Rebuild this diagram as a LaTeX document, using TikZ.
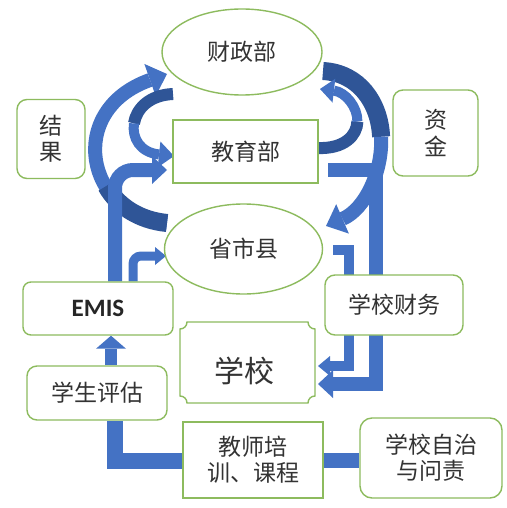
\documentclass[tikz,border=0pt]{standalone}
\usepackage{fontspec}
\newfontfamily\cjk{Noto Sans CJK SC}
\newfontfamily\calfont{Carlito}
\usetikzlibrary{arrows.meta,calc,shapes.geometric}
\definecolor{bl}{HTML}{4472C4}
\definecolor{bd}{HTML}{2F5597}
\definecolor{gr}{HTML}{8DBB5E}
\definecolor{tx}{HTML}{333333}
\pgfdeclarelayer{bg}
\pgfsetlayers{bg,main}
\begin{document}
\begin{tikzpicture}[x=1pt,y=-1pt,
  box/.style={draw=gr, line width=1.4pt, fill=white, inner sep=0pt, align=center, text=tx,
    font=\cjk\fontsize{23}{26}\selectfont},
  rbox/.style={box, rounded corners=10pt},
  ell/.style={box, ellipse},
  band/.style={draw=bl, line width=#1, line join=miter},
  dband/.style={draw=bd, line width=#1},
  tip/.style n args={2}{-{Triangle[width=#1pt,length=#2pt,line width=0pt]}}
]
\useasboundingbox (0,0) rectangle (506,508);

% nodes
\node[ell, minimum width=160pt, minimum height=86pt] (czb) at (242,52) {财政部};
\node[box, minimum width=145pt, minimum height=63pt] (jyb) at (245.5,151.5) {教育部};
\node[ell, minimum width=158pt, minimum height=90pt] (ssx) at (243.5,249) {省市县};
\node[rbox, minimum width=68pt, minimum height=79pt, font=\cjk\fontsize{23}{26}\selectfont] (jg) at (51,139) {结\\果};
\node[rbox, minimum width=85pt, minimum height=86pt, font=\cjk\fontsize{23}{27}\selectfont] (zj) at (435.5,133) {资\\金};
\node[rbox, rounded corners=8pt, minimum width=150pt, minimum height=53pt,
      font=\calfont\bfseries\fontsize{25}{28}\selectfont, text=black!85] (emis) at (98,308.5) {EMIS};
\node[rbox, minimum width=140pt, minimum height=54pt] (xspg) at (97,393) {学生评估};
\node[rbox, minimum width=138pt, minimum height=60pt] (xxcw) at (394,305) {学校财务};
% plaque shaped school box
\node[inner sep=0pt, minimum width=135pt, minimum height=81pt] (xx) at (247.5,362.5) {};
\draw[draw=gr, line width=1.4pt, fill=white]
  (187,322) -- (308,322) .. controls (308,325.9) and (311.1,329) .. (315,329)
  -- (315,396) .. controls (311.1,396) and (308,399.1) .. (308,403)
  -- (187,403) .. controls (187,399.1) and (183.9,396) .. (180,396)
  -- (180,329) .. controls (183.9,329) and (187,325.9) .. (187,322) -- cycle;
\node[text=tx, font=\cjk\fontsize{30}{32}\selectfont, inner sep=0pt] (xxt) at (244,371) {学校};
\node[box, minimum width=140pt, minimum height=76pt] (jspx) at (253,460) {教师培\\训、课程};
\node[rbox, rounded corners=12pt, minimum width=142pt, minimum height=80pt] (xxzz) at (431,458) {学校自治\\与问责};

% connector coordinates
\coordinate (a1s) at (167,223);
\coordinate (a1m) at (106.25,186);
\coordinate (a1e) at (167,74);
\coordinate (a2s) at (173,94);
\coordinate (a2m) at (134,123.4);
\coordinate (a2e) at (174,156);
\coordinate (a3s) at (323,71);
\coordinate (a3m) at (381.1,136.75);
\coordinate (a3e) at (326,226);
\coordinate (a4s) at (318,148);
\coordinate (a4m) at (357.4,121.5);
\coordinate (a4e) at (320,89);
\coordinate (a5e) at (167,170);
\coordinate (a6e) at (166,256);
\coordinate (a7s) at (328,170);
\coordinate (a7e) at (318,384);
\coordinate (a8s) at (333,250);
\coordinate (a8e) at (318,366);

\begin{pgfonlayer}{bg}
\fill[white] (0,0) rectangle (506,508);
% 教育部 -> 学校
\draw[band=14pt, tip={28}{15}] (a7s) -- (376,170) -- (376,384) -- (a7e);
% 省市县 -> 学校
\draw[band=10pt, tip={20}{12}] (a8s) -- (349,250) -- (349,366) -- (a8e);
% 省市县 -> 财政部 (left big arc)
\draw[band=14pt, tip={34}{18}] (a1s) .. controls (85,215) and (65,110) .. (a1e);
\draw[dband=18pt] (a1s) .. controls (138.3,220.2) and (117.2,205.5) .. (a1m);
% 财政部 -> 教育部 (left small arc)
\draw[dband=12pt] (a2s) .. controls (149,95) and (136.25,109) .. (a2m);
\draw[band=10pt, tip={26}{15}] (a2m) .. controls (131.75,137.75) and (140,152.5) .. (a2e);
% 财政部 -> 省市县 (right big arc)
\draw[dband=18pt] (a3s) .. controls (359,73) and (379.5,102.75) .. (a3m);
\draw[band=14pt, tip={32}{18}] (a3m) .. controls (382.75,170.75) and (365.5,209) .. (a3e);
% 教育部 -> 财政部 (right small arc)
\draw[dband=12pt] (a4s) .. controls (344,149) and (357,135.75) .. (a4m);
\draw[band=10pt, tip={24}{14}] (a4m) .. controls (357.75,107.25) and (345.5,92) .. (a4e);
% EMIS -> 教育部
\draw[band=14pt, rounded corners=18pt, tip={28}{15}] ($(emis.north)+(17,0)$) |- (a5e);
% EMIS -> 省市县
\draw[band=9pt, rounded corners=8pt, tip={18}{11}] ($(emis.north)+(35,0)$) |- (a6e);
% 学生评估 -> EMIS
\draw[band=12pt, tip={30}{13}] ($(xspg.north)+(14,0)$) -- ($(emis.south)+(13,0)$);
% 教师培训 -- 学生评估
\draw[band=16pt] ($(jspx.west)+(0,1)$) -| ($(xspg.south)+(18,0)$);
% 教师培训 -- 学校自治
\draw[band=15pt] ($(jspx.east)+(0,0.5)$) -- ($(xxzz.west)+(0,2.5)$);
\end{pgfonlayer}
\end{tikzpicture}
\end{document}
